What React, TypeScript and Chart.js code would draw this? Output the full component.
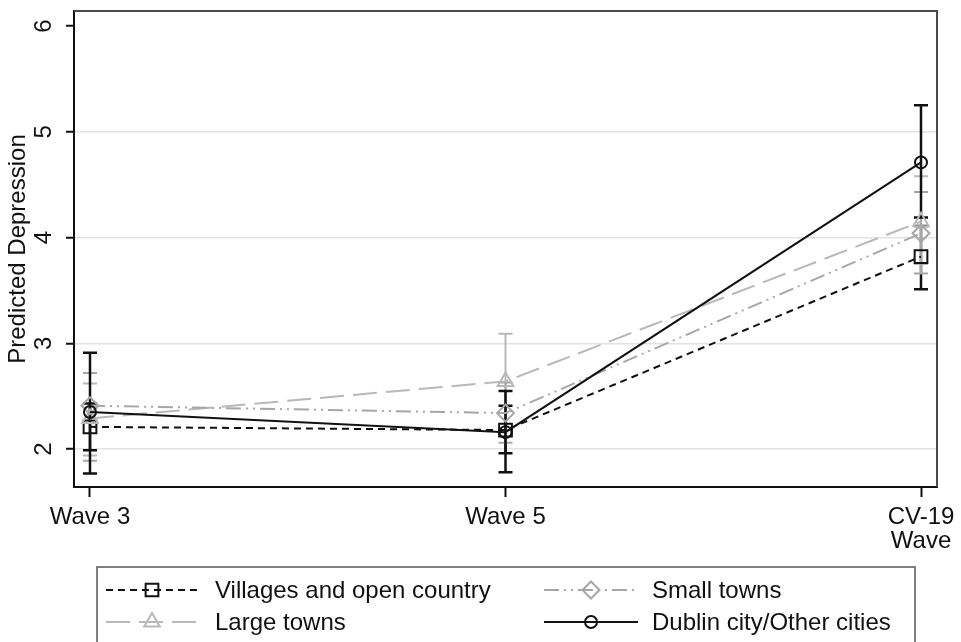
import React, { useEffect, useRef } from 'react';
import { Chart, registerables } from 'chart.js';
import { drawPoint } from 'chart.js/helpers';

Chart.register(...registerables);

// Survey waves on the x axis
const waveLabels: (string | string[])[] = ['Wave 3', 'Wave 5', ['CV-19', 'Wave']];
const waveIndex = [0, 1, 2];
const yTickValues = [2, 3, 4, 5, 6];

// Predicted depression with confidence bounds, by area type
const villages = [2.21, 2.18, 3.82];
const villagesLow = [1.99, 1.96, 3.51];
const villagesHigh = [2.43, 2.41, 4.11];

const largeTowns = [2.29, 2.64, 4.15];
const largeTownsLow = [1.94, 2.18, 3.75];
const largeTownsHigh = [2.62, 3.09, 4.58];

const smallTowns = [2.41, 2.34, 4.04];
const smallTownsLow = [1.89, 2.06, 3.66];
const smallTownsHigh = [2.72, 2.63, 4.43];

const cities = [2.35, 2.16, 4.71];
const citiesLow = [1.77, 1.78, 4.19];
const citiesHigh = [2.91, 2.55, 5.25];

const FONT = "'Liberation Sans', Arial, Helvetica, sans-serif";
const FONT_SIZE = 24;
const INK = '#111111';

type Series = {
  label: string;
  values: number[];
  low: number[];
  high: number[];
  color: string;
  dash: number[];
  pointStyle: string;
  radius: number;
  barWidth: number;
};

// drawing order: error bars follow this order, last one on top
const series: Series[] = [
  { label: 'Villages and open country', values: villages, low: villagesLow, high: villagesHigh,
    color: INK, dash: [7, 5], pointStyle: 'rect', radius: 9, barWidth: 2.5 },
  { label: 'Large towns', values: largeTowns, low: largeTownsLow, high: largeTownsHigh,
    color: '#b8b8b8', dash: [24, 9], pointStyle: 'triangle', radius: 9, barWidth: 2 },
  { label: 'Small towns', values: smallTowns, low: smallTownsLow, high: smallTownsHigh,
    color: '#a6a6a6', dash: [15, 5, 2, 5, 2, 5], pointStyle: 'rectRot', radius: 8.5, barWidth: 2 },
  { label: 'Dublin city/Other cities', values: cities, low: citiesLow, high: citiesHigh,
    color: INK, dash: [], pointStyle: 'circle', radius: 6, barWidth: 2.5 },
];

// legend layout: two columns, two rows (villages, small / large, cities)
const legendOrder = [0, 2, 1, 3];

const errorBarPlugin = {
  id: 'errorBars',
  beforeDatasetsDraw(chart: any) {
    const { ctx, scales } = chart;
    const xs = scales.x;
    const ys = scales.y;
    const cap = 7;
    ctx.save();
    series.forEach((s) => {
      ctx.strokeStyle = s.color;
      ctx.lineWidth = s.barWidth;
      ctx.setLineDash([]);
      s.values.forEach((_, i) => {
        const x = xs.getPixelForValue(waveIndex[i]);
        const yl = ys.getPixelForValue(s.low[i]);
        const yh = ys.getPixelForValue(s.high[i]);
        ctx.beginPath();
        ctx.moveTo(x, yl);
        ctx.lineTo(x, yh);
        ctx.moveTo(x - cap, yl);
        ctx.lineTo(x + cap, yl);
        ctx.moveTo(x - cap, yh);
        ctx.lineTo(x + cap, yh);
        ctx.stroke();
      });
    });
    ctx.restore();
  },
};

const framePlugin = {
  id: 'frameAndLabels',
  afterDraw(chart: any) {
    const { ctx, chartArea, scales } = chart;
    ctx.save();
    // top and right edges of the plot region
    ctx.strokeStyle = '#4a4a4a';
    ctx.lineWidth = 2;
    ctx.setLineDash([]);
    ctx.beginPath();
    ctx.moveTo(chartArea.left, chartArea.top);
    ctx.lineTo(chartArea.right, chartArea.top);
    ctx.lineTo(chartArea.right, chartArea.bottom);
    ctx.stroke();

    // vertical y tick labels
    ctx.fillStyle = INK;
    ctx.font = `${FONT_SIZE}px ${FONT}`;
    ctx.textAlign = 'center';
    ctx.textBaseline = 'middle';
    yTickValues.forEach((v) => {
      const y = scales.y.getPixelForValue(v);
      ctx.save();
      ctx.translate(chartArea.left - 30, y);
      ctx.rotate(-Math.PI / 2);
      ctx.fillText(String(v), 0, 0);
      ctx.restore();
    });

    // legend
    const box = { x: 97, y: 567, w: 818, h: 100 };
    ctx.strokeStyle = '#555555';
    ctx.lineWidth = 1.5;
    ctx.strokeRect(box.x, box.y, box.w, box.h);
    const rows = [590, 622];
    const cols = [
      { x0: 106, x1: 198, tx: 215 },
      { x0: 544, x1: 638, tx: 652 },
    ];
    legendOrder.forEach((si, k) => {
      const s = series[si];
      const col = cols[k % 2];
      const y = rows[Math.floor(k / 2)];
      ctx.strokeStyle = s.color;
      ctx.lineWidth = 2;
      ctx.setLineDash(s.dash);
      ctx.beginPath();
      ctx.moveTo(col.x0, y);
      ctx.lineTo(col.x1, y);
      ctx.stroke();
      ctx.setLineDash([]);
      ctx.fillStyle = 'rgba(0,0,0,0)';
      ctx.strokeStyle = s.color;
      ctx.lineWidth = 2;
      drawPoint(ctx, { pointStyle: s.pointStyle as any, radius: s.radius, rotation: 0, borderWidth: 2 } as any,
        (col.x0 + col.x1) / 2, y);
      ctx.fillStyle = INK;
      ctx.textAlign = 'left';
      ctx.textBaseline = 'middle';
      ctx.fillText(s.label, col.tx, y + 1);
    });
    ctx.restore();
  },
};

export default function App() {
  const canvasRef = useRef<HTMLCanvasElement | null>(null);

  useEffect(() => {
    const canvas = canvasRef.current;
    if (!canvas) return;
    const chart = new Chart(canvas, {
      type: 'line',
      data: {
        datasets: series.map((s, idx) => ({
          label: s.label,
          data: s.values.map((v, i) => ({ x: waveIndex[i], y: v })),
          borderColor: s.color,
          borderWidth: 2,
          borderDash: s.dash,
          pointStyle: s.pointStyle as any,
          pointRadius: s.radius,
          pointBorderColor: s.color,
          pointBorderWidth: 2,
          pointBackgroundColor: 'rgba(0,0,0,0)',
          fill: false,
          tension: 0,
          order: series.length - idx,
        })),
      },
      options: {
        animation: false,
        responsive: false,
        devicePixelRatio: 1,
        events: [],
        layout: { padding: { left: 0, top: 10, right: 24, bottom: 85 } },
        plugins: {
          legend: { display: false },
          tooltip: { enabled: false },
        },
        scales: {
          x: {
            type: 'linear',
            min: -0.0385,
            max: 2.0385,
            afterBuildTicks: (s: any) => {
              s.ticks = waveIndex.map((v) => ({ value: v }));
            },
            afterFit: (s: any) => {
              s.height = 70;
              s.paddingLeft = 0;
              s.paddingRight = 0;
            },
            ticks: {
              callback: (v: any) => waveLabels[Math.round(Number(v))] as any,
              font: { size: FONT_SIZE, family: FONT, lineHeight: 0.98 },
              color: INK,
              padding: 9,
              maxRotation: 0,
              minRotation: 0,
              autoSkip: false,
            },
            grid: {
              display: true,
              drawOnChartArea: false,
              drawTicks: true,
              tickLength: 10,
              tickColor: INK,
              tickWidth: 2,
            },
            border: { display: true, color: INK, width: 2 },
          },
          y: {
            type: 'linear',
            min: 1.6415,
            max: 6.1415,
            afterBuildTicks: (s: any) => {
              s.ticks = yTickValues.map((v) => ({ value: v }));
            },
            afterFit: (s: any) => {
              s.width = 74;
            },
            ticks: { display: false },
            grid: {
              color: (c: any) => (c.tick && c.tick.value === 6 ? 'rgba(0,0,0,0)' : '#e2e2e2'),
              lineWidth: 1.5,
              drawTicks: true,
              tickLength: 8,
              tickColor: INK,
              tickWidth: 2,
            },
            border: { display: true, color: INK, width: 2 },
            title: {
              display: true,
              text: 'Predicted Depression',
              color: INK,
              font: { size: FONT_SIZE, family: FONT },
              padding: { top: 4, bottom: 0 },
            },
          },
        },
      },
      plugins: [errorBarPlugin, framePlugin],
    });
    return () => chart.destroy();
  }, []);

  return (
    <div style={{ position: 'absolute', left: 0, top: 0, width: 961, height: 642, background: '#fff', overflow: 'hidden' }}>
      <canvas ref={canvasRef} width={961} height={642} style={{ display: 'block' }} />
    </div>
  );
}
